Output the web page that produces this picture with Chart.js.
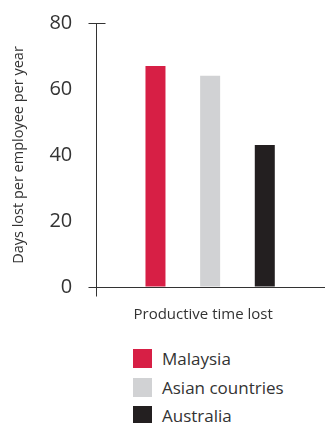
<!DOCTYPE html>
<html>
<head>
<meta charset="utf-8">
<script src="https://cdn.jsdelivr.net/npm/chart.js@4.4.1/dist/chart.umd.min.js"></script>
<style>
  html, body { margin: 0; padding: 0; background: #fff; }
  #wrap { position: relative; width: 328px; height: 423px; overflow: hidden; }
  #wrap canvas { position: absolute; left: 0; top: 0; }
  #legend { position: absolute; left: 133px; top: 349px; font-family: 'Open Sans'; font-size: 17px; color: #333; }
  .item { display: flex; align-items: center; height: 19px; margin-bottom: 9.5px; }
  .box { width: 19px; height: 19px; margin-right: 10px; }
</style>
</head>
<body>
<div id="wrap">
  <canvas id="chart" width="328" height="343"></canvas>
  <div id="legend"></div>
</div>
<script>
// ── data ──
const categories = ['Productive time lost'];
const seriesNames = ['Malaysia', 'Asian countries', 'Australia'];
const malaysia = [67];
const asianCountries = [64];
const australia = [43];
const yTicks = [0, 20, 40, 60, 80];
const seriesColors = ['#d71f45', '#d1d2d4', '#231f20'];

const INK = '#333';

// axis caps: short tick at the top value, little overhangs at the origin
const axisMarks = {
  id: 'axisMarks',
  afterDraw(chart) {
    const { ctx, chartArea, scales: { y } } = chart;
    const ax = Math.round(chartArea.left) + 0.5;
    const yTop = Math.round(y.getPixelForValue(yTicks[yTicks.length - 1])) + 0.5;
    const yBase = Math.round(y.getPixelForValue(0)) + 0.5;
    ctx.save();
    ctx.strokeStyle = INK;
    ctx.lineWidth = 1;
    ctx.beginPath();
    ctx.moveTo(ax - 8, yTop);  ctx.lineTo(ax + 9, yTop);
    ctx.moveTo(ax - 8, yBase); ctx.lineTo(ax, yBase);
    ctx.moveTo(ax, yBase);     ctx.lineTo(ax, yBase + 9);
    ctx.stroke();
    ctx.restore();
  }
};

const values = [malaysia, asianCountries, australia];

const chart = new Chart(document.getElementById('chart'), {
  type: 'bar',
  data: {
    labels: categories,
    datasets: seriesNames.map((name, i) => ({
      label: name,
      data: values[i],
      backgroundColor: seriesColors[i],
      borderWidth: 0,
      categoryPercentage: 0.72,
      barPercentage: 0.366,
    })),
  },
  options: {
    responsive: false,
    animation: false,
    layout: { padding: { top: 0, right: 4, bottom: 0, left: 0 } },
    plugins: { legend: { display: false }, tooltip: { enabled: false } },
    scales: {
      x: {
        grid: { drawOnChartArea: false, drawTicks: false },
        border: { display: true, color: INK, width: 1 },
        ticks: { color: INK, padding: 19, labelOffset: -7, font: { family: 'Open Sans', size: 15 } },
      },
      y: {
        min: 0, max: 80,
        afterBuildTicks: (s) => { s.ticks = yTicks.map(v => ({ value: v })); },
        // invisible tick marks give the labels their gap without padding the top
        grid: { drawOnChartArea: false, drawTicks: true, tickLength: 13, tickColor: 'transparent' },
        border: { display: true, color: INK, width: 1 },
        ticks: { color: INK, padding: 11, font: { family: 'Open Sans', size: 20 } },
        title: {
          display: true,
          text: 'Days lost per employee per year',
          color: INK,
          font: { family: 'Open Sans', size: 14.5 },
          padding: { top: 10, bottom: 11 },
        },
      },
    },
  },
  plugins: [axisMarks],
});

// legend rows built from the chart's datasets
const legendEl = document.getElementById('legend');
chart.data.datasets.forEach(ds => {
  const row = document.createElement('div');
  row.className = 'item';
  const box = document.createElement('span');
  box.className = 'box';
  box.style.background = ds.backgroundColor;
  const label = document.createElement('span');
  label.textContent = ds.label;
  row.appendChild(box);
  row.appendChild(label);
  legendEl.appendChild(row);
});
</script>
</body>
</html>
